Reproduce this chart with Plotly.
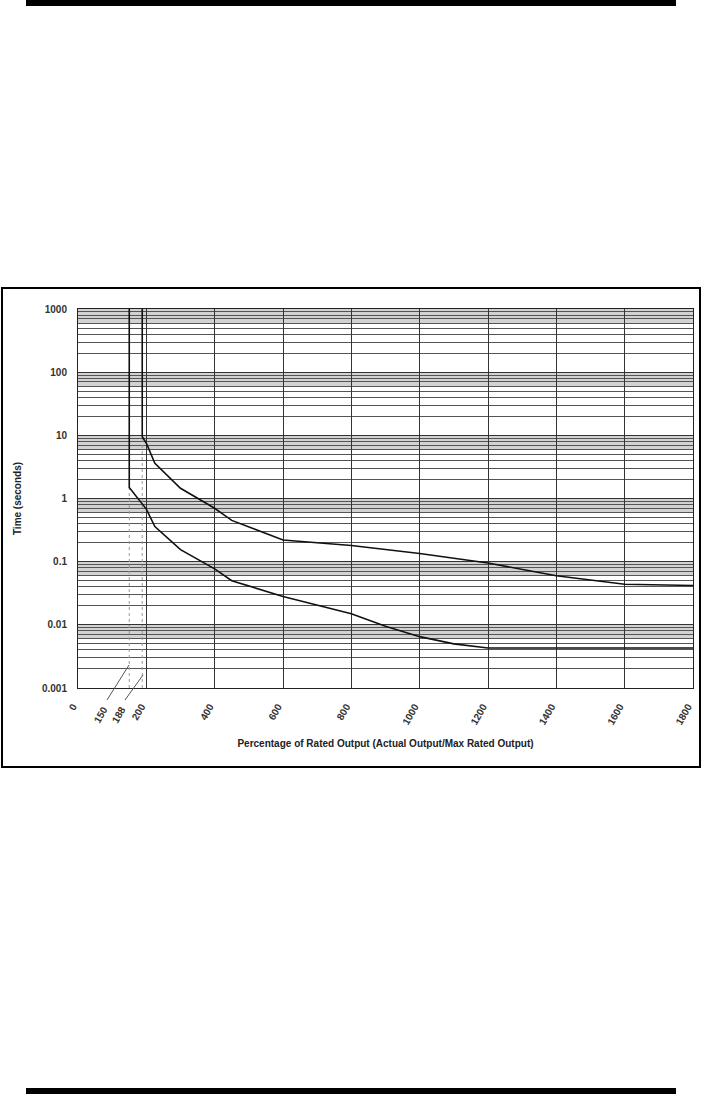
"""
과부하 보호 곡선 (Time vs Percentage of Rated Output)
"""
import plotly.graph_objects as go

# 하단 곡선 (150% 에서 수직)
lower_x = [150, 150, 200, 225, 300, 400, 450, 600, 800, 900, 1000, 1100, 1200, 1800]
lower_y = [1000, 1.5, 0.68, 0.36, 0.155, 0.077, 0.05, 0.028, 0.015, 0.0095, 0.0065, 0.005, 0.0043, 0.0043]

# 상단 곡선 (188% 에서 수직)
upper_x = [188, 188, 200, 215, 225, 300, 400, 450, 600, 800, 1000, 1200, 1400, 1600, 1800]
upper_y = [1000, 9.5, 7.5, 4.8, 3.6, 1.45, 0.7, 0.45, 0.22, 0.18, 0.135, 0.095, 0.06, 0.044, 0.042]

# 점선 기준선
marker_x = [150, 188]
marker_top = [1.5, 9.5]

x_ticks = [0, 200, 400, 600, 800, 1000, 1200, 1400, 1600, 1800]
y_ticks = [0.001, 0.01, 0.1, 1, 10, 100, 1000]
y_tick_text = ['0.001', '0.01', '0.1', '1', '10', '100', '1000']
decades = [0.01, 0.1, 1, 10, 100, 1000]

FONT = 'Arial, Liberation Sans, sans-serif'

# 플롯 영역 픽셀 위치
L, R, T, B = 78, 693, 309, 688
W, H = 703, 1094


def px_x(p):
    return (p - L) / (R - L)


def px_y(p):
    return (B - p) / (B - T)


fig = go.Figure()

for mx, mt in zip(marker_x, marker_top):
    fig.add_trace(go.Scatter(
        x=[mx, mx], y=[0.001, mt], mode='lines',
        line=dict(color='#999', width=1, dash='dot'),
        hoverinfo='skip', showlegend=False
    ))

for xs, ys in [(lower_x, lower_y), (upper_x, upper_y)]:
    fig.add_trace(go.Scatter(
        x=xs, y=ys, mode='lines',
        line=dict(color='#111', width=1.6),
        showlegend=False
    ))

shapes = []
# 10년 단위 근처 회색 띠
for d in decades:
    shapes.append(dict(type='rect', xref='paper', yref='y', x0=0, x1=1,
                       y0=d * 0.6, y1=d, fillcolor='#d2d2d2', line_width=0, layer='below'))

# 바깥 테두리
shapes.append(dict(type='rect', xref='paper', yref='paper',
                   x0=px_x(2), x1=px_x(700), y0=px_y(767), y1=px_y(288),
                   line=dict(color='black', width=2)))
# 상단/하단 굵은 막대
shapes.append(dict(type='rect', xref='paper', yref='paper',
                   x0=px_x(26), x1=px_x(676), y0=px_y(6), y1=px_y(0),
                   fillcolor='black', line_width=0))
shapes.append(dict(type='rect', xref='paper', yref='paper',
                   x0=px_x(26), x1=px_x(676), y0=px_y(1094), y1=px_y(1088),
                   fillcolor='black', line_width=0))
# 150 / 188 라벨 지시선
for x0, y0, x1, y1 in [(107, 700, 129, 665), (125, 700, 143, 675)]:
    shapes.append(dict(type='line', xref='paper', yref='paper',
                       x0=px_x(x0), y0=px_y(y0), x1=px_x(x1), y1=px_y(y1),
                       line=dict(color='#555', width=1)))

annotations = []
for txt, cx, cy in [('150', 100, 715), ('188', 118, 715)]:
    annotations.append(dict(text=txt, xref='paper', yref='paper',
                            x=px_x(cx), y=px_y(cy), xanchor='center', yanchor='middle',
                            showarrow=False, textangle=-60,
                            font=dict(family=FONT, size=10, color='#333', weight='bold')))

fig.update_layout(
    width=W, height=H, autosize=False,
    margin=dict(l=L, r=W - R, t=T, b=H - B),
    paper_bgcolor='white', plot_bgcolor='white',
    shapes=shapes, annotations=annotations,
    font=dict(family=FONT, size=10, color='#333'),
    xaxis=dict(
        range=[0, 1800], tickvals=x_ticks, tickangle=-60,
        showgrid=True, gridcolor='#333', gridwidth=1,
        showline=True, linecolor='#222', linewidth=1, mirror=True,
        zeroline=False, ticks='', ticklabelstandoff=8, ticklabelshift=-5,
        tickfont=dict(family=FONT, size=10, color='#333', weight='bold'),
        title=dict(text='Percentage of Rated Output (Actual Output/Max Rated Output)',
                   font=dict(family=FONT, size=10, color='#222', weight='bold'),
                   standoff=14),
    ),
    yaxis=dict(
        type='log', range=[-3, 3], tickvals=y_ticks, ticktext=y_tick_text,
        showgrid=True, gridcolor='#333', gridwidth=1,
        minor=dict(dtick='D1', showgrid=True, gridcolor='#555', gridwidth=1, ticks=''),
        showline=True, linecolor='#222', linewidth=1, mirror=True,
        zeroline=False, ticks='', ticklabelstandoff=8,
        tickfont=dict(family=FONT, size=10, color='#333', weight='bold'),
        title=dict(text='Time (seconds)',
                   font=dict(family=FONT, size=10, color='#222', weight='bold'),
                   standoff=18),
    ),
)

# body 기본 여백 제거 (페이지 좌표를 그림 좌표와 일치)
fig.write_html(
    "out.html",
    config=dict(displayModeBar=False, responsive=False),
    post_script="document.body.style.margin='0';document.body.style.overflow='hidden';",
)
